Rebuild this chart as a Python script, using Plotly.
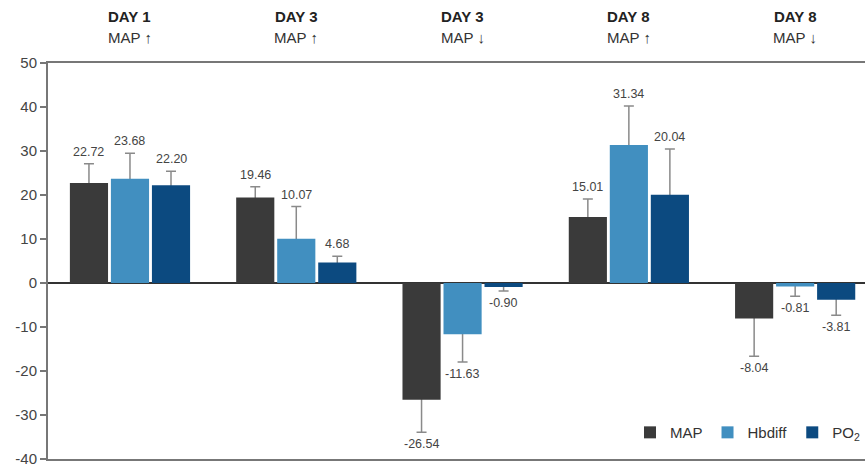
import plotly.graph_objects as go

groups_day = ["DAY 1", "DAY 3", "DAY 3", "DAY 8", "DAY 8"]
groups_map = ["MAP ↑", "MAP ↑", "MAP ↓", "MAP ↑", "MAP ↓"]
series_names = ["MAP", "Hbdiff", "PO<sub>2</sub>"]
map_vals = [22.72, 19.46, -26.54, 15.01, -8.04]
hbdiff_vals = [23.68, 10.07, -11.63, 31.34, -0.81]
po2_vals = [22.20, 4.68, -0.90, 20.04, -3.81]
map_err = [4.4, 2.4, 7.4, 4.1, 8.6]
hbdiff_err = [5.8, 7.3, 6.3, 8.9, 2.2]
po2_err = [3.2, 1.4, 0.9, 10.4, 3.5]
y_ticks = [-40, -30, -20, -10, 0, 10, 20, 30, 40, 50]
y_tick_labels = ["-40", "-30", "-20", "-10", "0", "10", "20", "30", "40", "50"]

colors = ["#3a3a3a", "#418fc0", "#0c4a80"]
values = [map_vals, hbdiff_vals, po2_vals]
errors = [map_err, hbdiff_err, po2_err]

x = list(range(len(groups_day)))
bargap = 0.26
bargroupgap = 0.07
slot = (1 - bargap) / 3
FONT = "Liberation Sans, Arial"

fig = go.Figure()
annotations = []

# error bars carried by transparent bars drawn beneath the visible bars
for i, (vals, errs) in enumerate(zip(values, errors)):
    outer = errs
    inner = [min(e, abs(v) * 0.5) for v, e in zip(vals, errs)]
    plus = [o if v >= 0 else n for v, o, n in zip(vals, outer, inner)]
    minus = [n if v >= 0 else o for v, o, n in zip(vals, outer, inner)]
    fig.add_trace(go.Bar(
        x=x, y=vals, offsetgroup=str(i), showlegend=False, hoverinfo="skip",
        marker=dict(color="rgba(0,0,0,0)", line=dict(width=0)),
        error_y=dict(type="data", symmetric=False, array=plus, arrayminus=minus,
                     color="#8a8a8a", thickness=1.5, width=5),
    ))

for i, (name, vals, errs, col) in enumerate(zip(series_names, values, errors, colors)):
    fig.add_trace(go.Bar(
        x=x, y=vals, name=name, offsetgroup=str(i),
        marker=dict(color=col, line=dict(width=0)),
    ))
    off = (i - 1) * slot
    for xi, v, e in zip(x, vals, errs):
        tip = v + e if v >= 0 else v - e
        annotations.append(dict(
            x=xi + off, y=tip, xref="x", yref="y",
            text=f"{v:.2f}", showarrow=False,
            yanchor="bottom" if v >= 0 else "top",
            yshift=3 if v >= 0 else -3,
            font=dict(size=12.5, color="#444444", family=FONT),
        ))

for xi, d, m in zip(x, groups_day, groups_map):
    annotations.append(dict(x=xi, y=1.118, xref="x", yref="paper", text=f"<b>{d}</b>",
                            showarrow=False, yanchor="middle",
                            font=dict(size=15, color="#222222", family=FONT)))
    annotations.append(dict(x=xi, y=1.065, xref="x", yref="paper", text=m,
                            showarrow=False, yanchor="middle",
                            font=dict(size=15, color="#333333", family=FONT)))

fig.update_layout(
    width=865, height=466,
    margin=dict(l=48, r=0, t=63, b=7),
    paper_bgcolor="white", plot_bgcolor="white",
    barmode="group", bargap=bargap, bargroupgap=bargroupgap,
    showlegend=True,
    legend=dict(orientation="h", x=1, xanchor="right", y=0.025, yanchor="bottom",
                font=dict(size=15, color="#333333", family=FONT),
                bgcolor="rgba(0,0,0,0)", itemwidth=30, tracegroupgap=0),
    annotations=annotations,
    xaxis=dict(range=[-0.493, 4.42], showticklabels=False, ticks="", showgrid=False,
               zeroline=False, showline=True, mirror=True, linecolor="#777777", linewidth=2),
    yaxis=dict(range=[-40, 50], tickvals=y_ticks, ticktext=y_tick_labels,
               ticks="outside", ticklen=6, tickwidth=1.5,
               tickcolor="#777777", showgrid=False, zeroline=True, zerolinecolor="#333333",
               zerolinewidth=1.5, showline=True, linecolor="#777777", linewidth=2,
               ticklabeloverflow="allow",
               tickfont=dict(size=15, color="#444444", family=FONT)),
)

fig.write_html("out.html")
